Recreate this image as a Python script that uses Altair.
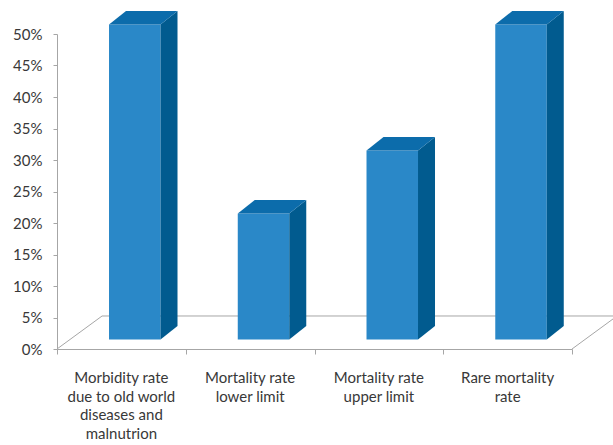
import altair as alt
import pandas as pd

# ---- data ----
categories = [
    "Morbidity rate\ndue to old world\ndiseases and\nmalnutrion",
    "Mortality rate\nlower limit",
    "Mortality rate\nupper limit",
    "Rare mortality\nrate",
]
values = [0.50, 0.20, 0.30, 0.50]
y_ticks = [0.0, 0.05, 0.10, 0.15, 0.20, 0.25, 0.30, 0.35, 0.40, 0.45, 0.50]
x_ticks = [0, 1, 2, 3, 4]

# ---- styling / 3D geometry constants (in scale units) ----
W, H = 515, 315
BAR_L, BAR_W = 0.404, 0.40      # bar front face left offset & width within a category slot
BASE = 0.015                    # lift of bar base above the front floor edge
DX, DY = 0.132, 0.0214          # bar depth offset
FDX, FDY = 0.35, 0.0524         # floor depth offset
FRONT, SIDE, TOP = "#2A88C8", "#015B8F", "#0C6CAB"
GRID = "#A6A6A6"
TXT = "#383838"
FONT = "Lato"
FS = 15

n = len(values)
front = pd.DataFrame({
    "i": range(n),
    "x0": [i + BAR_L for i in range(n)],
    "x1": [i + BAR_L + BAR_W for i in range(n)],
    "y0": [BASE] * n,
    "y1": [v + BASE for v in values],
})

side_rows, top_rows = [], []
for i, v in enumerate(values):
    xr = i + BAR_L + BAR_W
    side_rows.append({"i": i, "x": xr, "yb": BASE, "yt": v + BASE})
    side_rows.append({"i": i, "x": xr + DX, "yb": BASE + DY, "yt": v + BASE + DY})
    top_rows.append({"i": i, "y": v + BASE, "xl": i + BAR_L, "xr": xr})
    top_rows.append({"i": i, "y": v + BASE + DY, "xl": i + BAR_L + DX, "xr": xr + DX})
side = pd.DataFrame(side_rows)
top = pd.DataFrame(top_rows)

floor = pd.DataFrame({
    "x": [0, FDX, n + FDX, n],
    "y": [0, FDY, FDY, 0],
    "o": [0, 1, 2, 3],
})

labels = pd.DataFrame({"x": [i + 0.5 for i in range(n)], "label": categories})

xscale = alt.Scale(domain=[0, n], nice=False, zero=False)
yscale = alt.Scale(domain=[0, 0.5], nice=False)
xaxis = alt.Axis(values=x_ticks, labels=False, tickSize=5, grid=False, title=None,
                 domainColor=GRID, tickColor=GRID)
yaxis = alt.Axis(values=y_ticks, format=".0%", tickSize=4, labelPadding=11, grid=False,
                 title=None, domainColor=GRID, tickColor=GRID, labelFont=FONT,
                 labelFontSize=FS, labelColor=TXT)

floor_layer = alt.Chart(floor).mark_line(color=GRID, strokeWidth=1).encode(
    x=alt.X("x:Q", scale=xscale, axis=xaxis),
    y=alt.Y("y:Q", scale=yscale, axis=yaxis),
    order="o:Q",
)

front_layer = alt.Chart(front).mark_rect(color=FRONT).encode(
    x=alt.X("x0:Q", scale=xscale, axis=xaxis),
    x2="x1:Q",
    y=alt.Y("y0:Q", scale=yscale, axis=yaxis),
    y2="y1:Q",
)

side_layer = alt.Chart(side).mark_area(color=SIDE, orient="vertical").encode(
    x=alt.X("x:Q", scale=xscale, axis=xaxis),
    y=alt.Y("yb:Q", scale=yscale, axis=yaxis),
    y2="yt:Q",
    detail="i:N",
)

top_layer = alt.Chart(top).mark_area(color=TOP, orient="horizontal").encode(
    y=alt.Y("y:Q", scale=yscale, axis=yaxis),
    x=alt.X("xl:Q", scale=xscale, axis=xaxis),
    x2="xr:Q",
    detail="i:N",
)

text_layer = alt.Chart(labels).mark_text(
    font=FONT, fontSize=FS, color=TXT, lineBreak="\n", lineHeight=18.5,
    baseline="top", align="center",
).encode(
    x=alt.X("x:Q", scale=xscale, axis=xaxis),
    y=alt.value(H + 22),
    text="label:N",
)

chart = alt.layer(floor_layer, front_layer, side_layer, top_layer, text_layer).properties(
    width=W, height=H,
    autosize=alt.AutoSizeParams(type="none"),
    padding={"left": 57, "top": 34, "right": 41, "bottom": 96},
    background="white",
).configure_view(stroke=None)

chart.save("out.html", embed_options={"renderer": "svg", "actions": False})
